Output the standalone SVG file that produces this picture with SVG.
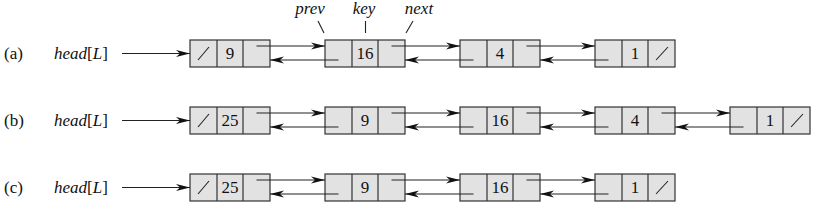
<svg xmlns="http://www.w3.org/2000/svg" width="814" height="205" viewBox="0 0 814 205">
<style>
.box{fill:#e2e2e2;stroke:#333;stroke-width:1.2}
.div{stroke:#333;stroke-width:1.2}
.ln{stroke:#222;stroke-width:1.1;fill:none}
.arr{stroke:#222;stroke-width:1.1;fill:none;marker-end:url(#ah)}
.t{font-family:"Liberation Serif","Times New Roman",serif;font-size:17px;fill:#111}
.c{text-anchor:middle}
.i{font-style:italic}
</style>
<defs>
<marker id="ah" markerUnits="userSpaceOnUse" markerWidth="16" markerHeight="10" refX="14" refY="4" orient="auto" viewBox="0 0 16 8">
<path d="M0,0.5 L14,4 L0,7.5 L4,4 Z" fill="#111"/>
</marker>
<g id="cell3">
<rect class="box" x="0" y="0" width="80" height="27"/>
<line class="div" x1="27" y1="0" x2="27" y2="27"/>
<line class="div" x1="53" y1="0" x2="53" y2="27"/>
</g>
</defs>

<g id="labels">
<text class="t" x="4" y="59">(a)</text>
<text class="t" x="4" y="126">(b)</text>
<text class="t" x="4" y="193">(c)</text>
<text class="t" x="54" y="59"><tspan class="i">head</tspan>[<tspan class="i">L</tspan>]</text>
<text class="t" x="54" y="126"><tspan class="i">head</tspan>[<tspan class="i">L</tspan>]</text>
<text class="t" x="54" y="193"><tspan class="i">head</tspan>[<tspan class="i">L</tspan>]</text>
<text class="t i c" x="310" y="14">prev</text>
<text class="t i c" x="364" y="14">key</text>
<text class="t i c" x="419" y="14">next</text>
<line class="ln" x1="318" y1="21" x2="324" y2="33"/>
<line class="ln" x1="365.5" y1="21" x2="365.5" y2="33"/>
<line class="ln" x1="413" y1="21" x2="406" y2="33"/>
</g>

<!-- Row a -->
<g id="a1"><use href="#cell3" x="190" y="40"/><line class="ln" x1="198" y1="60" x2="209" y2="47"/><text class="t c" x="230" y="59">9</text></g>
<g id="a2"><use href="#cell3" x="325" y="40"/><text class="t c" x="365" y="59">16</text></g>
<g id="a3"><use href="#cell3" x="460" y="40"/><text class="t c" x="500" y="59">4</text></g>
<g id="a4"><use href="#cell3" x="595" y="40"/><text class="t c" x="635" y="59">1</text><line class="ln" x1="656" y1="60" x2="668" y2="47"/></g>

<!-- Row b -->
<g id="b1"><use href="#cell3" x="190" y="107"/><line class="ln" x1="198" y1="127" x2="209" y2="114"/><text class="t c" x="230" y="126">25</text></g>
<g id="b2"><use href="#cell3" x="325" y="107"/><text class="t c" x="365" y="126">9</text></g>
<g id="b3"><use href="#cell3" x="460" y="107"/><text class="t c" x="500" y="126">16</text></g>
<g id="b4"><use href="#cell3" x="595" y="107"/><text class="t c" x="635" y="126">4</text></g>
<g id="b5"><use href="#cell3" x="730" y="107"/><text class="t c" x="770" y="126">1</text><line class="ln" x1="791" y1="127" x2="803" y2="114"/></g>

<!-- Row c -->
<g id="c1"><use href="#cell3" x="190" y="174"/><line class="ln" x1="198" y1="194" x2="209" y2="181"/><text class="t c" x="230" y="193">25</text></g>
<g id="c2"><use href="#cell3" x="325" y="174"/><text class="t c" x="365" y="193">9</text></g>
<g id="c3"><use href="#cell3" x="460" y="174"/><text class="t c" x="500" y="193">16</text></g>
<g id="c4"><use href="#cell3" x="595" y="174"/><text class="t c" x="635" y="193">1</text><line class="ln" x1="656" y1="194" x2="668" y2="181"/></g>

<g id="connectors">
<line class="arr" x1="122" y1="53.5" x2="190" y2="53.5"/>
<line class="arr" x1="122" y1="120.5" x2="190" y2="120.5"/>
<line class="arr" x1="122" y1="187.5" x2="190" y2="187.5"/>
<!-- row a -->
<line class="arr" x1="256.5" y1="46" x2="325" y2="46"/>
<line class="arr" x1="338.5" y1="60" x2="270" y2="60"/>
<line class="arr" x1="391.5" y1="46" x2="460" y2="46"/>
<line class="arr" x1="473.5" y1="60" x2="405" y2="60"/>
<line class="arr" x1="526.5" y1="46" x2="595" y2="46"/>
<line class="arr" x1="608.5" y1="60" x2="540" y2="60"/>
<!-- row b -->
<line class="arr" x1="256.5" y1="113" x2="325" y2="113"/>
<line class="arr" x1="338.5" y1="127" x2="270" y2="127"/>
<line class="arr" x1="391.5" y1="113" x2="460" y2="113"/>
<line class="arr" x1="473.5" y1="127" x2="405" y2="127"/>
<line class="arr" x1="526.5" y1="113" x2="595" y2="113"/>
<line class="arr" x1="608.5" y1="127" x2="540" y2="127"/>
<line class="arr" x1="661.5" y1="113" x2="730" y2="113"/>
<line class="arr" x1="743.5" y1="127" x2="675" y2="127"/>
<!-- row c -->
<line class="arr" x1="256.5" y1="180" x2="325" y2="180"/>
<line class="arr" x1="338.5" y1="194" x2="270" y2="194"/>
<line class="arr" x1="391.5" y1="180" x2="460" y2="180"/>
<line class="arr" x1="473.5" y1="194" x2="405" y2="194"/>
<line class="arr" x1="526.5" y1="180" x2="595" y2="180"/>
<line class="arr" x1="608.5" y1="194" x2="540" y2="194"/>
</g>
</svg>
